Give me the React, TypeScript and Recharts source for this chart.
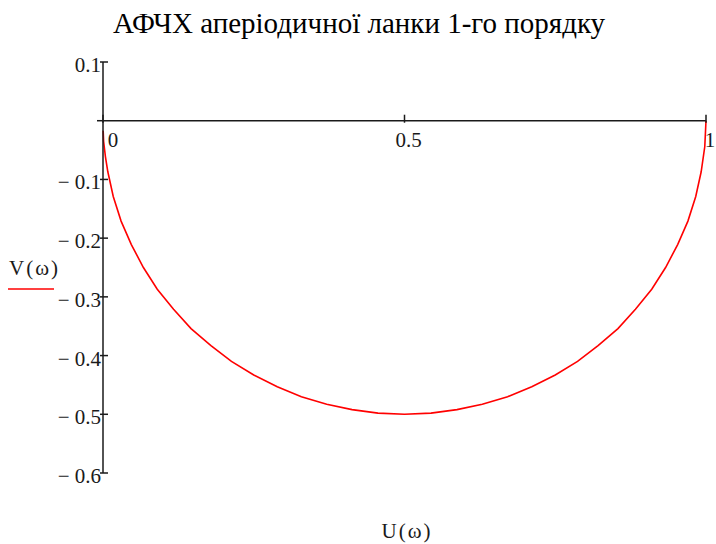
import { LineChart, Line, XAxis, YAxis, ReferenceLine, ReferenceDot } from "recharts";

const TITLE = "АФЧХ аперіодичної ланки 1-го порядку";
const X_LABEL = "U(ω)";
const Y_LABEL = "V(ω)";

// hodograph, from ω = 0 (U = 1) towards ω → ∞ (U → 0)
const uValues = [
  1, 0.998, 0.992, 0.983, 0.97, 0.953, 0.933, 0.91, 0.883, 0.854, 0.821, 0.787, 0.75, 0.711, 0.671,
  0.629, 0.587, 0.544, 0.5, 0.456, 0.413, 0.371, 0.329, 0.289, 0.25, 0.213, 0.179, 0.146, 0.117,
  0.09, 0.067, 0.047, 0.03, 0.017, 0.008, 0.004, 0.001, 0.0003,
];
const vValues = [
  0, -0.044, -0.087, -0.129, -0.171, -0.211, -0.25, -0.287, -0.321, -0.354, -0.383, -0.41, -0.433,
  -0.453, -0.47, -0.483, -0.492, -0.498, -0.5, -0.498, -0.492, -0.483, -0.47, -0.453, -0.433, -0.41,
  -0.383, -0.354, -0.321, -0.287, -0.25, -0.211, -0.171, -0.129, -0.087, -0.061, -0.035, -0.017,
];

const xTicks = [0, 0.5, 1];
const yTicks = [0.1, 0, -0.1, -0.2, -0.3, -0.4, -0.5, -0.6];

const FONT = '"Liberation Serif", "Times New Roman", serif';
const RED = "#ff0000";
const INK = "#1a1a1a";

const data = uValues.map((u, i) => ({ u, v: vValues[i] }));

function fmtY(v: number) {
  if (v === 0) return "";
  const s = Math.abs(v).toFixed(1);
  return v < 0 ? "\u2212 " + s : s;
}

function YTick(props: any) {
  const { x, y, payload } = props;
  const isZero = payload.value === 0;
  return (
    <g>
      <line x1={isZero ? x - 6 : x - 3} x2={isZero ? x : x + 5} y1={y} y2={y} stroke={INK} strokeWidth={1.5} />
      <text x={x - 2} y={y + 10} textAnchor="end" fontFamily={FONT} fontSize={21} fill={INK}>
        {fmtY(payload.value)}
      </text>
    </g>
  );
}

function xTickShape(value: number) {
  return (props: any) => (
    <g>
      <line x1={props.cx} x2={props.cx} y1={props.cy - 6} y2={props.cy + 2} stroke={INK} strokeWidth={1.5} />
      <text
        x={props.cx + (value === 0 ? 10 : 4)}
        y={props.cy + 26}
        textAnchor="middle"
        fontFamily={FONT}
        fontSize={21}
        fill={INK}
      >
        {String(value)}
      </text>
    </g>
  );
}

export default function App() {
  return (
    <div style={{ position: "absolute", left: 0, top: 0, width: 716, height: 544, background: "#fff" }}>
      <LineChart width={716} height={544} data={data} margin={{ top: 62, right: 10, bottom: 71, left: 0 }}>
        <XAxis dataKey="u" type="number" domain={[0, 1]} ticks={xTicks} hide />
        <YAxis
          type="number"
          domain={[-0.6, 0.1]}
          ticks={yTicks}
          interval={0}
          width={103}
          tickSize={0}
          tickMargin={0}
          tickLine={false}
          axisLine={{ stroke: INK, strokeWidth: 1.5 }}
          tick={<YTick />}
        />
        <ReferenceLine y={0} stroke={INK} strokeWidth={1.5} />
        {xTicks.map((t) => (
          <ReferenceDot key={t} x={t} y={0} r={0} shape={xTickShape(t)} />
        ))}
        <Line
          type="linear"
          dataKey="v"
          stroke={RED}
          strokeWidth={1.6}
          dot={false}
          isAnimationActive={false}
        />
      </LineChart>
      <svg width={716} height={544} style={{ position: "absolute", left: 0, top: 0, pointerEvents: "none" }}>
        <text x={359} y={33} textAnchor="middle" fontFamily={FONT} fontSize={29} fill="#000">
          {TITLE}
        </text>
        <text x={9} y={275} fontFamily={FONT} fontSize={21} letterSpacing={2} fill={INK}>
          {Y_LABEL}
        </text>
        <line x1={8} x2={54} y1={289} y2={289} stroke={RED} strokeWidth={1.6} />
        <text x={407} y={538} textAnchor="middle" fontFamily={FONT} fontSize={21} letterSpacing={2} fill={INK}>
          {X_LABEL}
        </text>
      </svg>
    </div>
  );
}
